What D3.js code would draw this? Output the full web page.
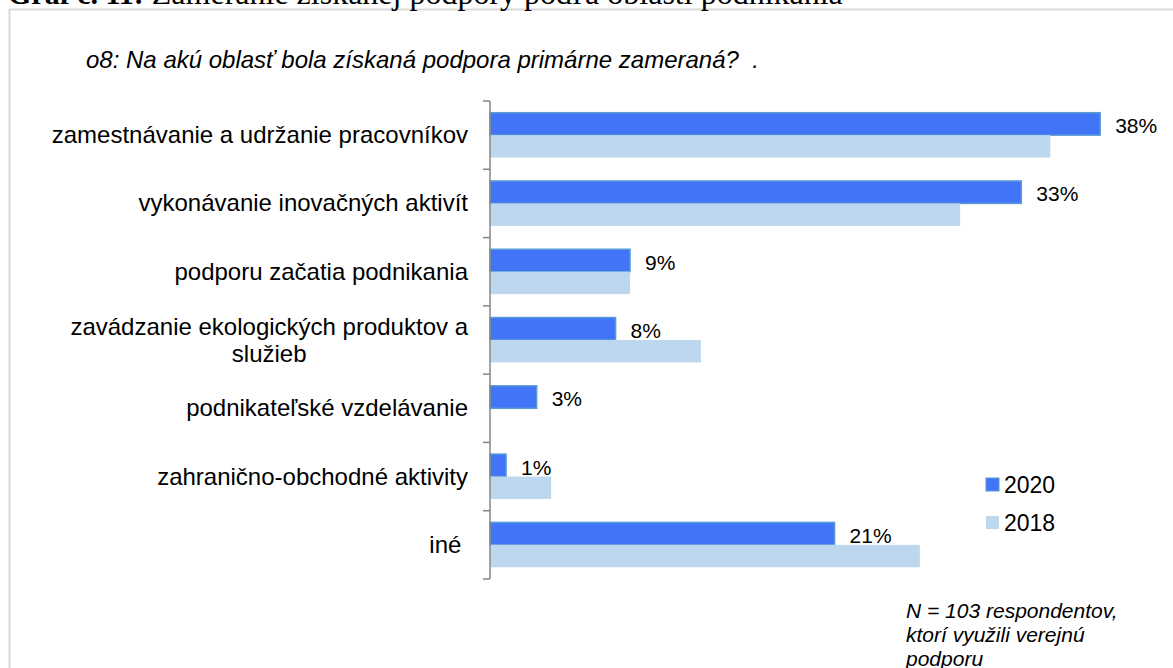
<!DOCTYPE html>
<html>
<head>
<meta charset="utf-8">
<script src="https://cdn.jsdelivr.net/npm/d3@7"></script>
<style>
  body { margin: 0; background: #fff; }
  svg text { font-family: Arial, "Liberation Sans", sans-serif; fill: #000; }
</style>
</head>
<body>
<div id="chart"></div>
<script>
// kategorie (zhora nadol)
var kategorie = [
    ["zamestnávanie a udržanie pracovníkov"],
    ["vykonávanie inovačných aktivít"],
    ["podporu začatia podnikania"],
    ["zavádzanie ekologických produktov a", "služieb"],
    ["podnikateľské vzdelávanie"],
    ["zahranično-obchodné aktivity"],
    ["iné "]
];
var roky = ["2020", "2018"];
var hodnoty2020 = [37.9, 33.0, 8.7, 7.8, 2.9, 1.0, 21.4];
var hodnoty2018 = [34.8, 29.2, 8.7, 13.1, 0, 3.8, 26.7];
var popisky2020 = ["38%", "33%", "9%", "8%", "3%", "1%", "21%"];
var farby = { "2020": "#4174f7", "2018": "#bdd7ee" };

var width = 1173, height = 668;

var svg = d3.select("#chart").append("svg")
    .attr("width", width)
    .attr("height", height);

// ramik okolo grafu
svg.append("rect")
    .attr("x", 9.5).attr("y", 9.5)
    .attr("width", 1300).attr("height", 800)
    .attr("fill", "none")
    .attr("stroke", "#d9d9d9")
    .attr("stroke-width", 2);

// orezany nadpis nad grafom
var nadpis = svg.append("text")
    .attr("x", 8).attr("y", 4)
    .style("font-family", "'Liberation Serif', 'Times New Roman', serif")
    .style("font-size", "30px");
nadpis.append("tspan").style("font-weight", "bold").text("Graf č. 11:");
nadpis.append("tspan").style("font-size", "32px").text(" Zameranie získanej podpory podľa oblasti podnikania");

svg.append("text")
    .attr("x", 86).attr("y", 68)
    .style("font-size", "24px")
    .style("font-style", "italic")
    .style("white-space", "pre")
    .text("o8: Na akú oblasť bola získaná podpora primárne zameraná?  .");

var osX = 490;
var x = d3.scaleLinear().domain([0, 40]).range([0, 644]);

var y0 = d3.scaleBand()
    .domain(d3.range(kategorie.length))
    .range([101, 579]);

var y1 = d3.scaleBand()
    .domain(roky)
    .range([0, y0.bandwidth()])
    .paddingOuter(0.52);

var data = kategorie.map(function (k, i) {
    return { i: i, nazov: k, "2020": hodnoty2020[i], "2018": hodnoty2018[i], popis: popisky2020[i] };
});

var skupiny = svg.selectAll(".skupina")
    .data(data)
    .enter().append("g")
    .attr("class", "skupina")
    .attr("transform", function (d) { return "translate(" + osX + "," + y0(d.i) + ")"; });

skupiny.selectAll("rect")
    .data(function (d) { return roky.map(function (r) { return { rok: r, v: d[r] }; }); })
    .enter().append("rect")
    .attr("x", 0)
    .attr("y", function (d) { return y1(d.rok); })
    .attr("width", function (d) { return x(d.v); })
    .attr("height", y1.bandwidth())
    .style("fill", function (d) { return farby[d.rok]; })
    .style("stroke", function (d) { return d.rok == "2020" && d.v > 0 ? "#5b9bd5" : "none"; })
    .style("stroke-width", 1.5);

// popisky hodnot len pre 2020
skupiny.append("text")
    .attr("x", function (d) { return x(d["2020"]) + 15; })
    .attr("y", y1("2020") + y1.bandwidth() - 2)
    .style("font-size", "21px")
    .text(function (d) { return d.popis; });

// nazvy kategorii
skupiny.each(function (d) {
    var g = d3.select(this);
    var stred = y0.bandwidth() / 2;
    if (d.nazov.length == 1) {
        g.append("text")
            .attr("x", -22)
            .attr("y", stred + 8)
            .style("font-size", "24px")
            .style("text-anchor", "end")
            .style("white-space", "pre")
            .text(d.nazov[0]);
    } else {
        var t = g.append("text")
            .attr("y", stred - 5)
            .style("font-size", "24px")
            .style("text-anchor", "middle");
        t.selectAll("tspan")
            .data(d.nazov)
            .enter().append("tspan")
            .attr("dy", function (s, j) { return j == 0 ? 0 : 27; })
            .text(function (s) { return s; });
        var w = t.select("tspan").node().getComputedTextLength();
        t.attr("x", -22 - w / 2);
        t.selectAll("tspan").attr("x", -22 - w / 2);
    }
});

// os Y s ciarkami na hraniciach kategorii
var hranice = y0.domain().map(function (i) { return y0(i); }).concat([y0.range()[1]]);
svg.append("line")
    .attr("x1", osX).attr("x2", osX)
    .attr("y1", hranice[0]).attr("y2", hranice[hranice.length - 1])
    .style("stroke", "#868686").style("stroke-width", 1.5);
svg.selectAll(".ciarka")
    .data(hranice)
    .enter().append("line")
    .attr("class", "ciarka")
    .attr("x1", osX - 7).attr("x2", osX)
    .attr("y1", function (d) { return d; }).attr("y2", function (d) { return d; })
    .style("stroke", "#868686").style("stroke-width", 1.5);

// legenda
var legenda = svg.selectAll(".legenda")
    .data(roky)
    .enter().append("g")
    .attr("class", "legenda")
    .attr("transform", function (d, i) { return "translate(986," + (478 + i * 38) + ")"; });
legenda.append("rect")
    .attr("width", 13).attr("height", 13)
    .style("fill", function (d) { return farby[d]; })
    .style("stroke", function (d) { return d == "2020" ? "#5b9bd5" : "none"; });
legenda.append("text")
    .attr("x", 18).attr("y", 15)
    .style("font-size", "23px")
    .text(function (d) { return d; });

// poznamka
var poznamka = ["N = 103 respondentov,", "ktorí využili verejnú", "podporu"];
svg.selectAll(".poznamka")
    .data(poznamka)
    .enter().append("text")
    .attr("class", "poznamka")
    .attr("x", 906)
    .attr("y", function (d, i) { return 618 + i * 24; })
    .style("font-size", "21px")
    .style("font-style", "italic")
    .text(function (d) { return d; });
</script>
</body>
</html>
